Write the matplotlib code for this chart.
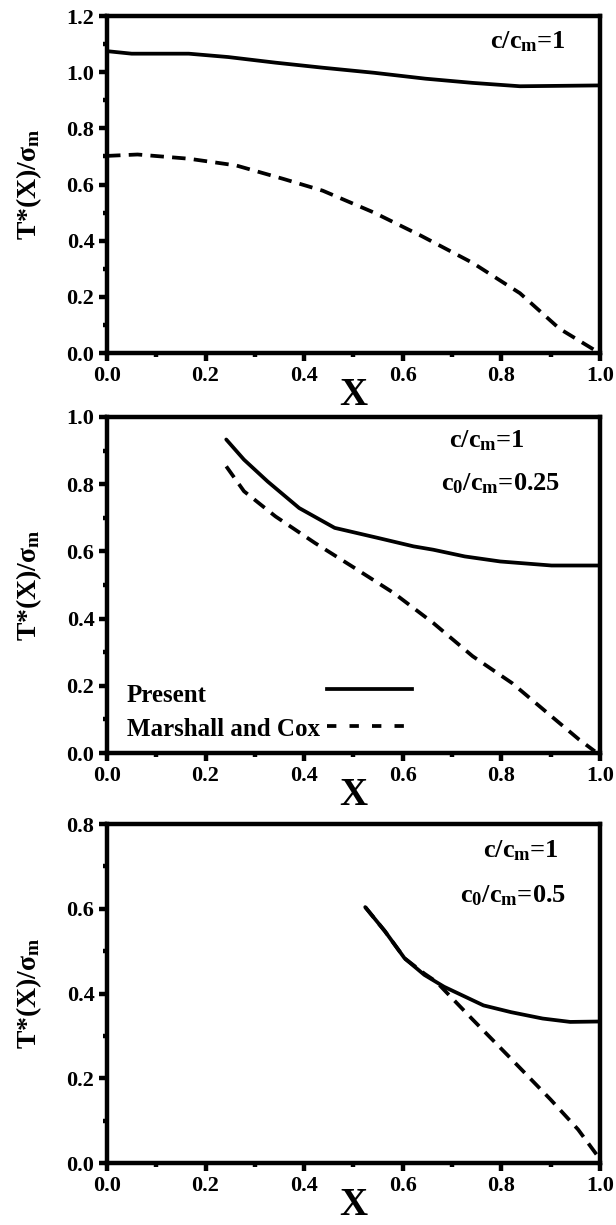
import matplotlib
matplotlib.use("Agg")
import matplotlib.pyplot as plt
from matplotlib.ticker import MultipleLocator, FormatStrFormatter

plt.rcParams['font.family'] = ['Liberation Serif', 'DejaVu Serif']
plt.rcParams['font.weight'] = 'bold'
plt.rcParams['mathtext.fontset'] = 'custom'
plt.rcParams['mathtext.rm'] = 'Liberation Serif:bold'
plt.rcParams['mathtext.it'] = 'Liberation Serif:bold'
plt.rcParams['mathtext.bf'] = 'Liberation Serif:bold'

# c/cm = 1, no initial crack
x1_present = [0.0, 0.05, 0.166, 0.246, 0.342, 0.438, 0.542, 0.646, 0.742, 0.838, 1.0]
y1_present = [1.075, 1.066, 1.066, 1.054, 1.034, 1.016, 0.998, 0.977, 0.962, 0.950, 0.953]
x1_mc = [0.0, 0.062, 0.166, 0.262, 0.358, 0.438, 0.542, 0.638, 0.742, 0.838, 0.918, 0.99]
y1_mc = [0.702, 0.707, 0.692, 0.668, 0.620, 0.578, 0.500, 0.417, 0.321, 0.213, 0.087, 0.010]

# c0/cm = 0.25
x2_present = [0.242, 0.278, 0.326, 0.39, 0.462, 0.55, 0.622, 0.662, 0.726, 0.798, 0.902, 1.0]
y2_present = [0.933, 0.873, 0.808, 0.729, 0.670, 0.640, 0.615, 0.605, 0.585, 0.570, 0.558, 0.558]
x2_mc = [0.242, 0.278, 0.342, 0.422, 0.502, 0.582, 0.662, 0.742, 0.822, 0.902, 0.958, 0.99]
y2_mc = [0.853, 0.779, 0.704, 0.625, 0.551, 0.476, 0.387, 0.288, 0.208, 0.109, 0.040, 0.005]

# c0/cm = 0.5
x3_present = [0.524, 0.564, 0.604, 0.644, 0.684, 0.764, 0.82, 0.884, 0.94, 1.0]
y3_present = [0.604, 0.547, 0.483, 0.444, 0.416, 0.372, 0.356, 0.341, 0.333, 0.334]
x3_mc = [0.524, 0.564, 0.604, 0.644, 0.668, 0.74, 0.82, 0.9, 0.956, 0.996]
y3_mc = [0.604, 0.547, 0.483, 0.447, 0.428, 0.341, 0.246, 0.150, 0.079, 0.016]

panels = [
    dict(xp=x1_present, yp=y1_present, xm=x1_mc, ym=y1_mc, ymax=1.2,
         notes=[(0.777, 1.107, r'c/c$_m$=1')]),
    dict(xp=x2_present, yp=y2_present, xm=x2_mc, ym=y2_mc, ymax=1.0,
         notes=[(0.694, 0.93, r'c/c$_m$=1'), (0.678, 0.80, r'c$_0$/c$_m$=0.25')]),
    dict(xp=x3_present, yp=y3_present, xm=x3_mc, ym=y3_mc, ymax=0.8,
         notes=[(0.764, 0.737, r'c/c$_m$=1'), (0.716, 0.63, r'c$_0$/c$_m$=0.5')]),
]

fig = plt.figure(figsize=(6.16, 12.25), dpi=100)
boxes = [(0.1737, 0.7118, 0.800, 0.2751),
         (0.1737, 0.3853, 0.800, 0.2743),
         (0.1737, 0.0506, 0.800, 0.2767)]

for i, (p, box) in enumerate(zip(panels, boxes)):
    ax = fig.add_axes(box)
    ax.plot(p['xp'], p['yp'], color='black', lw=2.7, solid_capstyle='round')
    ax.plot(p['xm'], p['ym'], color='black', lw=2.7, dashes=(3.6, 2.2))
    ax.set_xlim(0, 1.0)
    ax.set_ylim(0, p['ymax'])
    ax.xaxis.set_major_locator(MultipleLocator(0.2))
    ax.xaxis.set_minor_locator(MultipleLocator(0.1))
    ax.yaxis.set_major_locator(MultipleLocator(0.2))
    ax.yaxis.set_minor_locator(MultipleLocator(0.1))
    ax.xaxis.set_major_formatter(FormatStrFormatter('%.1f'))
    ax.yaxis.set_major_formatter(FormatStrFormatter('%.1f'))
    ax.tick_params(which='major', direction='out', length=6, width=3.2, labelsize=16, pad=3)
    ax.tick_params(which='minor', direction='out', length=3, width=3.2)
    for s in ax.spines.values():
        s.set_linewidth(3.2)
    ax.set_xlabel('X', fontsize=28, fontweight='bold', labelpad=-6)
    ax.set_ylabel(r'T*(X)/$\sigma_m$', fontsize=20, fontweight='bold', labelpad=16)
    for tx, ty, s in p['notes']:
        ax.text(tx, ty, s, fontsize=19, fontweight='bold', va='center', ha='left')
    if i == 1:
        # legend key: label on the left, line sample on the right
        ax.text(0.04, 0.17, 'Present', fontsize=18, fontweight='bold',
                va='center', transform=ax.transAxes)
        ax.text(0.04, 0.07, 'Marshall and Cox', fontsize=18, fontweight='bold',
                va='center', transform=ax.transAxes)
        ax.plot([0.446, 0.618], [0.19, 0.19], color='black', lw=2.7,
                transform=ax.transAxes)
        ax.plot([0.446, 0.618], [0.08, 0.08], color='black', lw=2.7,
                dashes=(2.5, 3.5), transform=ax.transAxes)

fig.savefig('out.png', dpi=100)
